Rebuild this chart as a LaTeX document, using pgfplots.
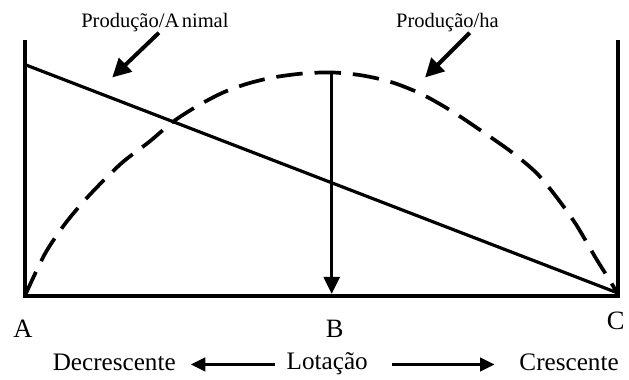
\documentclass[border=0pt]{standalone}
\usepackage{pgfplots}
\pgfplotsset{compat=1.18}
\usepackage{fontspec}
\setmainfont{Liberation Serif}
\usetikzlibrary{arrows.meta}
\begin{document}
\begin{tikzpicture}
\begin{axis}[
  scale only axis, width=447.75pt, height=193.5pt,
  xmin=0, xmax=597, ymin=0, ymax=258,
  hide axis, clip=false,
  at={(18.75pt,60.75pt)}, anchor=south west,
]
% frame
\addplot[black, line width=3.2pt, line join=miter] coordinates {(0,258) (0,0) (597,0) (597,258)};
% Produção/Animal (straight line)
\addplot[black, line width=2.4pt] coordinates {(0,233) (597,3)};
% Produção/ha (dashed curve)
\addplot[black, line width=2.8pt, smooth, dash pattern=on 20pt off 9pt] coordinates {
(0,0) (20,42) (40,72) (60,96) (80,117) (100,136) (125,155) (150,176)
(175,192) (200,205) (225,214) (250,220) (280,224) (310,225) (340,222)
(370,215) (400,203) (430,186) (460,166) (490,145) (515,124) (535,100)
(555,72) (575,38) (590,14) (597,2)};
% vertical arrow at B
\addplot[black, line width=2.6pt, -{Triangle[length=13pt,width=12pt]}] coordinates {(309,225) (309,2)};
% annotation arrows
\draw[black, line width=3pt, -{Triangle[length=14pt,width=14pt]}] (axis cs:135,265) -- (axis cs:88,220);
\draw[black, line width=3pt, -{Triangle[length=14pt,width=14pt]}] (axis cs:448,265) -- (axis cs:403,220);
% labels
\node[anchor=base, font=\fontsize{15.5pt}{18pt}\selectfont] at (axis cs:131,270) {Produção/A\kern0.12em nimal};
\node[anchor=base, font=\fontsize{15.5pt}{18pt}\selectfont] at (axis cs:425.5,270) {Produção/ha};
\node[anchor=base, font=\fontsize{20pt}{24pt}\selectfont] at (axis cs:-2,-42) {A};
\node[anchor=base, font=\fontsize{20pt}{24pt}\selectfont] at (axis cs:312,-42) {B};
\node[anchor=base, font=\fontsize{20pt}{24pt}\selectfont] at (axis cs:595,-34) {C};
\node[anchor=base, font=\fontsize{19pt}{22pt}\selectfont] at (axis cs:90,-75) {Decrescente};
\node[anchor=base, font=\fontsize{19pt}{22pt}\selectfont] at (axis cs:304.5,-74) {Lotação};
\node[anchor=base, font=\fontsize{19pt}{22pt}\selectfont] at (axis cs:548,-75) {Crescente};
\draw[black, line width=2.5pt, -{Triangle[length=11pt,width=10pt]}] (axis cs:252,-69) -- (axis cs:167,-69);
\draw[black, line width=2.5pt, -{Triangle[length=11pt,width=10pt]}] (axis cs:370,-69) -- (axis cs:473,-69);
% bounding box
\path (axis cs:-25,-81) rectangle (axis cs:604,298);
\end{axis}
\end{tikzpicture}
\end{document}
